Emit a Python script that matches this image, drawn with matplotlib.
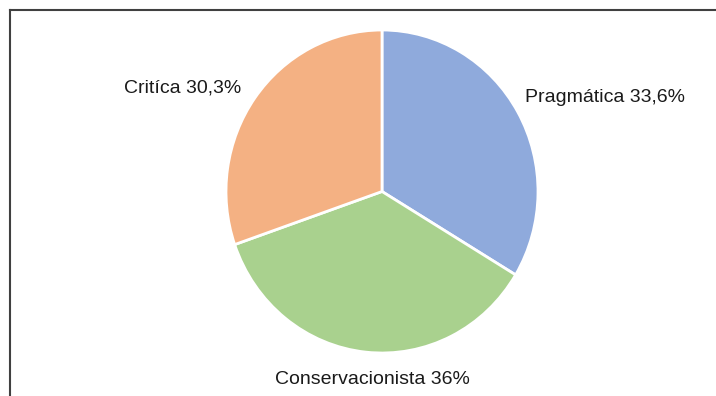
import matplotlib.pyplot as plt
from matplotlib.lines import Line2D

plt.rcParams['font.family'] = ['Liberation Sans', 'DejaVu Sans']

# datos
categorias = ['Pragmática', 'Conservacionista', 'Crítica']
valores = [33.6, 36.0, 30.3]
etiquetas = ['Pragmática 33,6%', 'Conservacionista 36%', 'Critíca 30,3%']
colores = ['#8FAADC', '#A9D18E', '#F4B183']

W, H = 716, 396
k = 161.5 / 156  # el pastel es un poco mas alto que ancho
fig = plt.figure(figsize=(W / 100, H / 100), dpi=100)
ax = fig.add_axes([0, 0, 1, 1])

cx, cy, r = 382, (H - 191.5) / k, 156
ax.pie(valores, colors=colores, startangle=90, counterclock=False,
       center=(cx, cy), radius=r, frame=True,
       wedgeprops=dict(edgecolor='white', linewidth=2))
ax.set_aspect('auto')
ax.set_xlim(0, W)
ax.set_ylim(0, H / k)
ax.axis('off')

# posiciones de las etiquetas (pixeles)
pos = [(605, 97), (372, 380), (183, 88)]
for txt, (x, y) in zip(etiquetas, pos):
    ax.text(x, (H - y) / k, txt, ha='center', va='center', fontsize=14, color='#1a1a1a')

# marco (solo arriba e izquierda visibles)
fig.add_artist(Line2D([10 / W, 1], [1 - 10 / H, 1 - 10 / H], color='#404040', lw=1.5))
fig.add_artist(Line2D([10 / W, 10 / W], [0, 1 - 10 / H], color='#404040', lw=1.5))

fig.savefig('out.png', dpi=100)
